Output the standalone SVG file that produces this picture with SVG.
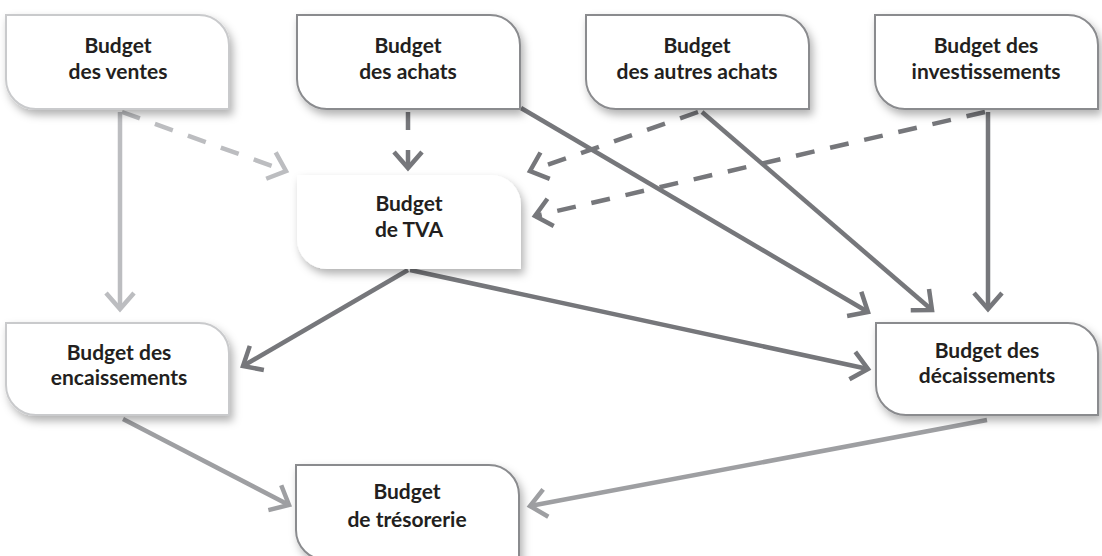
<svg xmlns="http://www.w3.org/2000/svg" width="1102" height="556" viewBox="0 0 1102 556">
  <style>
    .box { fill: #ffffff; stroke-width: 2; filter: url(#sh); }
    .bl { stroke: #c9cacc; }
    .bd { stroke: #8a8b8e; }
    .bn { stroke: none; }
    .t { font-family: Lato, "Noto Sans", sans-serif; font-weight: bold; font-size: 21px; fill: #231f20; text-anchor: middle; }
    .c { fill: none; stroke-width: 4.5; }
    .light { stroke: #bcbdc0; marker-end: url(#aL); }
    .med { stroke: #9e9fa2; marker-end: url(#aM); }
    .dark { stroke: #76777b; marker-end: url(#aD); }
    .dash { stroke-dasharray: 19 16; }
  </style>
  <defs>
    <filter id="sh" x="-10%" y="-10%" width="125%" height="135%">
      <feDropShadow dx="3" dy="5" stdDeviation="4" flood-color="#000" flood-opacity="0.3"/>
    </filter>
    <marker id="aL" viewBox="-20 -17 24 34" markerWidth="24" markerHeight="34" refX="0" refY="0" orient="auto" markerUnits="userSpaceOnUse">
      <path d="M-16,-14 L0,0 L-16,14" fill="none" stroke="#bcbdc0" stroke-width="4.5"/>
    </marker>
    <marker id="aM" viewBox="-20 -17 24 34" markerWidth="24" markerHeight="34" refX="0" refY="0" orient="auto" markerUnits="userSpaceOnUse">
      <path d="M-16,-14 L0,0 L-16,14" fill="none" stroke="#9e9fa2" stroke-width="4.5"/>
    </marker>
    <marker id="aD" viewBox="-20 -17 24 34" markerWidth="24" markerHeight="34" refX="0" refY="0" orient="auto" markerUnits="userSpaceOnUse">
      <path d="M-16,-14 L0,0 L-16,14" fill="none" stroke="#76777b" stroke-width="4.5"/>
    </marker>
  </defs>

  <g id="connectors">
    <path class="c light" d="M120,112 L120,309"/>
    <path class="c light dash" d="M122,112 L286,171"/>
    <path class="c dark dash" d="M408,112 L408,168" style="stroke-dasharray:18 20"/>
    <path class="c dark" d="M521,108 L868,312"/>
    <path class="c dark dash" d="M698,112 L530,171"/>
    <path class="c dark" d="M702,112 L932,310"/>
    <path class="c dark dash" d="M985,112 L535,216"/>
    <path class="c dark" d="M988,112 L988,309"/>
    <path class="c dark" d="M408,270 L243,366"/>
    <path class="c dark" d="M410,270 L868,369"/>
    <path class="c med" d="M123,419 L289,505"/>
    <path class="c med" d="M987,420 L530,506"/>
  </g>

  <g id="node-ventes">
    <path class="box bl" d="M6,15 H199 A30,30 0 0 1 229,45 V109 H36 A30,30 0 0 1 6,79 Z"/>
    <text class="t" x="118" y="53">Budget</text>
    <text class="t" x="118" y="79">des ventes</text>
  </g>
  <g id="node-achats">
    <path class="box bd" d="M297,15 H490 A30,30 0 0 1 520,45 V109 H327 A30,30 0 0 1 297,79 Z"/>
    <text class="t" x="408" y="53">Budget</text>
    <text class="t" x="408" y="79">des achats</text>
  </g>
  <g id="node-autres-achats">
    <path class="box bd" d="M586,15 H779 A30,30 0 0 1 809,45 V109 H616 A30,30 0 0 1 586,79 Z"/>
    <text class="t" x="697" y="53">Budget</text>
    <text class="t" x="697" y="79">des autres achats</text>
  </g>
  <g id="node-investissements">
    <path class="box bd" d="M875,15 H1068 A30,30 0 0 1 1098,45 V109 H905 A30,30 0 0 1 875,79 Z"/>
    <text class="t" x="986" y="53">Budget des</text>
    <text class="t" x="986" y="79">investissements</text>
  </g>
  <g id="node-tva">
    <path class="box bn" d="M297,175 H491 A30,30 0 0 1 521,205 V269 H327 A30,30 0 0 1 297,239 Z"/>
    <text class="t" x="409" y="211">Budget</text>
    <text class="t" x="409" y="237">de TVA</text>
  </g>
  <g id="node-encaissements">
    <path class="box bl" d="M6,323 H199 A30,30 0 0 1 229,353 V415 H36 A30,30 0 0 1 6,385 Z"/>
    <text class="t" x="119" y="360">Budget des</text>
    <text class="t" x="119" y="385">encaissements</text>
  </g>
  <g id="node-decaissements">
    <path class="box bd" d="M876,323 H1068 A30,30 0 0 1 1098,353 V415 H906 A30,30 0 0 1 876,385 Z"/>
    <text class="t" x="987" y="358">Budget des</text>
    <text class="t" x="987" y="383">décaissements</text>
  </g>
  <g id="node-tresorerie">
    <path class="box bd" d="M296,465 H489 A30,30 0 0 1 519,495 V560 H326 A30,30 0 0 1 296,530 Z"/>
    <text class="t" x="407" y="499">Budget</text>
    <text class="t" x="407" y="527">de trésorerie</text>
  </g>
</svg>
